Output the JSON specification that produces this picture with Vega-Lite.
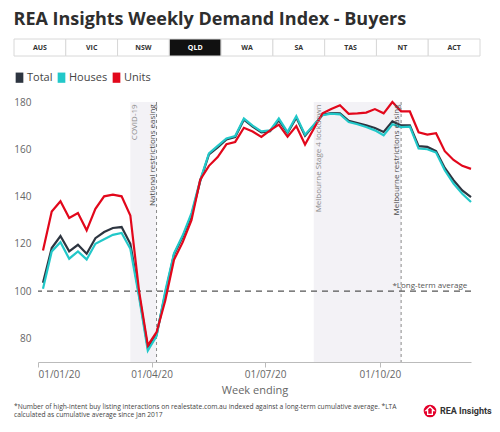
{
  "$schema": "https://vega.github.io/schema/vega-lite/v6.json",
  "background": "#ffffff",
  "padding": {"left": 13, "right": 6, "top": 10, "bottom": 2},
  "config": {"font": "Open Sans", "view": {"stroke": null}},
  "title": {"text": "REA Insights Weekly Demand Index - Buyers", "anchor": "start", "frame": "bounds", "fontSize": 18, "fontWeight": "bold", "color": "#2e2e2e", "font": "Open Sans", "offset": 10},
  "spacing": 15,
  "resolve": {"legend": {"color": "independent"}},
  "vconcat": [
    {
      "width": 433,
      "height": 17,
      "data": {"values": [{"state": "AUS"}, {"state": "VIC"}, {"state": "NSW"}, {"state": "QLD"}, {"state": "WA"}, {"state": "SA"}, {"state": "TAS"}, {"state": "NT"}, {"state": "ACT"}]},
      "encoding": {"x": {"field": "state", "type": "nominal", "sort": null, "axis": null, "scale": {"type": "band", "paddingInner": 0, "paddingOuter": 0, "range": [-24, 442]}}},
      "layer": [
        {"mark": {"type": "rect", "stroke": "#d8d8d8", "strokeWidth": 1}, "encoding": {"fill": {"condition": {"test": "datum.state === 'QLD'", "value": "#111111"}, "value": "#ffffff"}}},
        {"mark": {"type": "text", "fontSize": 7, "fontWeight": "bold", "font": "Open Sans"}, "encoding": {"text": {"field": "state"}, "fill": {"condition": {"test": "datum.state === 'QLD'", "value": "#ffffff"}, "value": "#333333"}}}
      ]
    },
    {
      "spacing": 8,
      "resolve": {"legend": {"color": "independent"}},
      "vconcat": [
        {
          "width": 433,
          "height": 260,
          "layer": [
            {
              "data": {"values": [{"date": "2020-03-15", "end": "2020-04-05"}, {"date": "2020-08-09", "end": "2020-10-18"}]},
              "mark": {"type": "rect", "fill": "#f3f2f6"},
              "encoding": {
                "x": {"field": "date", "type": "temporal", "title": "Week ending", "scale": {"type": "utc", "domain": [{"year": 2020, "month": 1, "date": 1, "utc": true}, {"year": 2020, "month": 12, "date": 13, "utc": true}], "nice": false}},
                "x2": {"field": "end"},
                "y": {"datum": 180, "type": "quantitative", "title": null, "scale": {"domain": [70, 180], "nice": false, "zero": false}},
                "y2": {"datum": 70}
              }
            },
            {
              "data": {"values": [{"date": "2020-04-05"}, {"date": "2020-10-18"}]},
              "mark": {"type": "rule", "color": "#8a8a8a", "strokeDash": [3, 3], "strokeWidth": 1},
              "encoding": {
                "x": {"field": "date", "type": "temporal", "title": "Week ending", "scale": {"type": "utc", "domain": [{"year": 2020, "month": 1, "date": 1, "utc": true}, {"year": 2020, "month": 12, "date": 13, "utc": true}], "nice": false}}
              }
            },
            {
              "data": {"values": [{"lta": 100}]},
              "mark": {"type": "rule", "color": "#555555", "strokeDash": [6, 5], "strokeWidth": 1.2},
              "encoding": {
                "y": {"field": "lta", "type": "quantitative", "title": null, "scale": {"domain": [70, 180], "nice": false, "zero": false}}
              }
            },
            {
              "data": {"values": [
                {"date": "2020-01-05", "series": "Total", "value": 103.5},
                {"date": "2020-01-12", "series": "Total", "value": 118.2},
                {"date": "2020-01-19", "series": "Total", "value": 123.3},
                {"date": "2020-01-26", "series": "Total", "value": 116.8},
                {"date": "2020-02-02", "series": "Total", "value": 119.6},
                {"date": "2020-02-09", "series": "Total", "value": 115.8},
                {"date": "2020-02-16", "series": "Total", "value": 122.4},
                {"date": "2020-02-23", "series": "Total", "value": 125.0},
                {"date": "2020-03-01", "series": "Total", "value": 126.7},
                {"date": "2020-03-08", "series": "Total", "value": 127.1},
                {"date": "2020-03-15", "series": "Total", "value": 120.0},
                {"date": "2020-03-22", "series": "Total", "value": 98.5},
                {"date": "2020-03-29", "series": "Total", "value": 76.0},
                {"date": "2020-04-05", "series": "Total", "value": 81.5},
                {"date": "2020-04-12", "series": "Total", "value": 99.0},
                {"date": "2020-04-19", "series": "Total", "value": 115.5},
                {"date": "2020-04-26", "series": "Total", "value": 123.0},
                {"date": "2020-05-03", "series": "Total", "value": 132.0},
                {"date": "2020-05-10", "series": "Total", "value": 146.5},
                {"date": "2020-05-17", "series": "Total", "value": 157.8},
                {"date": "2020-05-24", "series": "Total", "value": 160.8},
                {"date": "2020-05-31", "series": "Total", "value": 164.2},
                {"date": "2020-06-07", "series": "Total", "value": 165.2},
                {"date": "2020-06-14", "series": "Total", "value": 172.5},
                {"date": "2020-06-21", "series": "Total", "value": 169.6},
                {"date": "2020-06-28", "series": "Total", "value": 167.2},
                {"date": "2020-07-05", "series": "Total", "value": 167.6},
                {"date": "2020-07-12", "series": "Total", "value": 172.2},
                {"date": "2020-07-19", "series": "Total", "value": 166.9},
                {"date": "2020-07-26", "series": "Total", "value": 173.4},
                {"date": "2020-08-02", "series": "Total", "value": 165.7},
                {"date": "2020-08-09", "series": "Total", "value": 170.1},
                {"date": "2020-08-16", "series": "Total", "value": 174.6},
                {"date": "2020-08-23", "series": "Total", "value": 175.3},
                {"date": "2020-08-30", "series": "Total", "value": 175.2},
                {"date": "2020-09-06", "series": "Total", "value": 172.0},
                {"date": "2020-09-13", "series": "Total", "value": 171.1},
                {"date": "2020-09-20", "series": "Total", "value": 170.1},
                {"date": "2020-09-27", "series": "Total", "value": 169.0},
                {"date": "2020-10-04", "series": "Total", "value": 167.3},
                {"date": "2020-10-11", "series": "Total", "value": 171.8},
                {"date": "2020-10-18", "series": "Total", "value": 170.1},
                {"date": "2020-10-25", "series": "Total", "value": 170.1},
                {"date": "2020-11-01", "series": "Total", "value": 161.3},
                {"date": "2020-11-08", "series": "Total", "value": 161.0},
                {"date": "2020-11-15", "series": "Total", "value": 159.2},
                {"date": "2020-11-22", "series": "Total", "value": 152.1},
                {"date": "2020-11-29", "series": "Total", "value": 146.9},
                {"date": "2020-12-06", "series": "Total", "value": 142.6},
                {"date": "2020-12-13", "series": "Total", "value": 139.8},
                {"date": "2020-01-05", "series": "Houses", "value": 101.0},
                {"date": "2020-01-12", "series": "Houses", "value": 116.8},
                {"date": "2020-01-19", "series": "Houses", "value": 120.7},
                {"date": "2020-01-26", "series": "Houses", "value": 113.7},
                {"date": "2020-02-02", "series": "Houses", "value": 116.8},
                {"date": "2020-02-09", "series": "Houses", "value": 113.4},
                {"date": "2020-02-16", "series": "Houses", "value": 120.0},
                {"date": "2020-02-23", "series": "Houses", "value": 121.9},
                {"date": "2020-03-01", "series": "Houses", "value": 123.8},
                {"date": "2020-03-08", "series": "Houses", "value": 124.6},
                {"date": "2020-03-15", "series": "Houses", "value": 117.9},
                {"date": "2020-03-22", "series": "Houses", "value": 97.5},
                {"date": "2020-03-29", "series": "Houses", "value": 74.8},
                {"date": "2020-04-05", "series": "Houses", "value": 81.0},
                {"date": "2020-04-12", "series": "Houses", "value": 100.0},
                {"date": "2020-04-19", "series": "Houses", "value": 116.0},
                {"date": "2020-04-26", "series": "Houses", "value": 123.6},
                {"date": "2020-05-03", "series": "Houses", "value": 133.0},
                {"date": "2020-05-10", "series": "Houses", "value": 147.0},
                {"date": "2020-05-17", "series": "Houses", "value": 158.3},
                {"date": "2020-05-24", "series": "Houses", "value": 161.4},
                {"date": "2020-05-31", "series": "Houses", "value": 164.6},
                {"date": "2020-06-07", "series": "Houses", "value": 165.6},
                {"date": "2020-06-14", "series": "Houses", "value": 173.0},
                {"date": "2020-06-21", "series": "Houses", "value": 170.0},
                {"date": "2020-06-28", "series": "Houses", "value": 167.6},
                {"date": "2020-07-05", "series": "Houses", "value": 168.0},
                {"date": "2020-07-12", "series": "Houses", "value": 173.0},
                {"date": "2020-07-19", "series": "Houses", "value": 167.3},
                {"date": "2020-07-26", "series": "Houses", "value": 174.0},
                {"date": "2020-08-02", "series": "Houses", "value": 166.2},
                {"date": "2020-08-09", "series": "Houses", "value": 170.3},
                {"date": "2020-08-16", "series": "Houses", "value": 174.4},
                {"date": "2020-08-23", "series": "Houses", "value": 175.1},
                {"date": "2020-08-30", "series": "Houses", "value": 174.8},
                {"date": "2020-09-06", "series": "Houses", "value": 171.5},
                {"date": "2020-09-13", "series": "Houses", "value": 170.6},
                {"date": "2020-09-20", "series": "Houses", "value": 169.4},
                {"date": "2020-09-27", "series": "Houses", "value": 168.0},
                {"date": "2020-10-04", "series": "Houses", "value": 165.9},
                {"date": "2020-10-11", "series": "Houses", "value": 170.6},
                {"date": "2020-10-18", "series": "Houses", "value": 169.4},
                {"date": "2020-10-25", "series": "Houses", "value": 169.6},
                {"date": "2020-11-01", "series": "Houses", "value": 160.3},
                {"date": "2020-11-08", "series": "Houses", "value": 160.0},
                {"date": "2020-11-15", "series": "Houses", "value": 158.6},
                {"date": "2020-11-22", "series": "Houses", "value": 151.1},
                {"date": "2020-11-29", "series": "Houses", "value": 145.5},
                {"date": "2020-12-06", "series": "Houses", "value": 141.2},
                {"date": "2020-12-13", "series": "Houses", "value": 137.7},
                {"date": "2020-01-05", "series": "Units", "value": 117.2},
                {"date": "2020-01-12", "series": "Units", "value": 133.7},
                {"date": "2020-01-19", "series": "Units", "value": 138.0},
                {"date": "2020-01-26", "series": "Units", "value": 130.9},
                {"date": "2020-02-02", "series": "Units", "value": 133.0},
                {"date": "2020-02-09", "series": "Units", "value": 125.7},
                {"date": "2020-02-16", "series": "Units", "value": 134.8},
                {"date": "2020-02-23", "series": "Units", "value": 140.1},
                {"date": "2020-03-01", "series": "Units", "value": 140.8},
                {"date": "2020-03-08", "series": "Units", "value": 140.1},
                {"date": "2020-03-15", "series": "Units", "value": 132.0},
                {"date": "2020-03-22", "series": "Units", "value": 100.0},
                {"date": "2020-03-29", "series": "Units", "value": 77.0},
                {"date": "2020-04-05", "series": "Units", "value": 82.6},
                {"date": "2020-04-12", "series": "Units", "value": 96.0},
                {"date": "2020-04-19", "series": "Units", "value": 113.3},
                {"date": "2020-04-26", "series": "Units", "value": 120.7},
                {"date": "2020-05-03", "series": "Units", "value": 130.0},
                {"date": "2020-05-10", "series": "Units", "value": 147.1},
                {"date": "2020-05-17", "series": "Units", "value": 153.0},
                {"date": "2020-05-24", "series": "Units", "value": 156.7},
                {"date": "2020-05-31", "series": "Units", "value": 162.1},
                {"date": "2020-06-07", "series": "Units", "value": 163.1},
                {"date": "2020-06-14", "series": "Units", "value": 169.1},
                {"date": "2020-06-21", "series": "Units", "value": 167.5},
                {"date": "2020-06-28", "series": "Units", "value": 165.2},
                {"date": "2020-07-05", "series": "Units", "value": 168.0},
                {"date": "2020-07-12", "series": "Units", "value": 170.4},
                {"date": "2020-07-19", "series": "Units", "value": 165.3},
                {"date": "2020-07-26", "series": "Units", "value": 169.8},
                {"date": "2020-08-02", "series": "Units", "value": 162.0},
                {"date": "2020-08-09", "series": "Units", "value": 168.7},
                {"date": "2020-08-16", "series": "Units", "value": 175.2},
                {"date": "2020-08-23", "series": "Units", "value": 177.0},
                {"date": "2020-08-30", "series": "Units", "value": 178.6},
                {"date": "2020-09-06", "series": "Units", "value": 175.0},
                {"date": "2020-09-13", "series": "Units", "value": 175.2},
                {"date": "2020-09-20", "series": "Units", "value": 175.5},
                {"date": "2020-09-27", "series": "Units", "value": 177.0},
                {"date": "2020-10-04", "series": "Units", "value": 175.2},
                {"date": "2020-10-11", "series": "Units", "value": 180.0},
                {"date": "2020-10-18", "series": "Units", "value": 176.0},
                {"date": "2020-10-25", "series": "Units", "value": 176.0},
                {"date": "2020-11-01", "series": "Units", "value": 167.2},
                {"date": "2020-11-08", "series": "Units", "value": 166.2},
                {"date": "2020-11-15", "series": "Units", "value": 166.8},
                {"date": "2020-11-22", "series": "Units", "value": 159.2},
                {"date": "2020-11-29", "series": "Units", "value": 155.5},
                {"date": "2020-12-06", "series": "Units", "value": 153.0},
                {"date": "2020-12-13", "series": "Units", "value": 151.7}
              ]},
              "mark": {"type": "line", "strokeWidth": 2.2},
              "encoding": {
                "x": {"field": "date", "type": "temporal", "title": "Week ending", "scale": {"type": "utc", "domain": [{"year": 2020, "month": 1, "date": 1, "utc": true}, {"year": 2020, "month": 12, "date": 13, "utc": true}], "nice": false},
                  "axis": {"title": "Week ending", "values": [{"year": 2020, "month": 1, "date": 1, "utc": true}, {"year": 2020, "month": 4, "date": 1, "utc": true}, {"year": 2020, "month": 7, "date": 1, "utc": true}, {"year": 2020, "month": 10, "date": 1, "utc": true}], "format": "%d/%m/%y", "grid": false, "domainColor": "#bbbbbb", "tickColor": "#bbbbbb", "tickSize": 5, "labelFontSize": 10, "labelColor": "#666666", "labelPadding": 2, "titleFontSize": 11, "titleFontWeight": "normal", "titleColor": "#666666", "titlePadding": 5, "labelFont": "Open Sans", "titleFont": "Open Sans"}},
                "y": {"field": "value", "type": "quantitative", "title": null, "scale": {"domain": [70, 180], "nice": false, "zero": false},
                  "axis": {"title": null, "values": [80, 100, 120, 140, 160, 180], "domain": false, "ticks": false, "grid": false, "labelFontSize": 10, "labelColor": "#666666", "labelPadding": 7, "labelFont": "Open Sans"}},
                "color": {"field": "series", "type": "nominal", "sort": null,
                  "scale": {"domain": ["Total", "Houses", "Units"], "range": ["#2d3540", "#22c8c9", "#e2071b"]},
                  "legend": {"title": null, "orient": "none", "legendX": -24, "legendY": -30, "direction": "horizontal", "symbolType": "M-0.75,-1H0.75V1H-0.75Z", "symbolSize": 105, "symbolStrokeWidth": 0, "labelFontSize": 11, "labelColor": "#444444", "labelFont": "Open Sans", "columnPadding": 3, "labelOffset": 2,
                    "encode": {"symbols": {"update": {"fill": {"scale": "color", "field": "value"}, "opacity": {"value": 1}}}}}}
              }
            },
            {
              "data": {"values": [{"date": "2020-03-15", "label": "COVID-19"}, {"date": "2020-08-09", "label": "Melbourne Stage 4 lockdown"}]},
              "mark": {"type": "text", "angle": 270, "align": "right", "baseline": "top", "fontSize": 8, "color": "#8c8c8c", "font": "Open Sans", "dy": 1},
              "encoding": {
                "x": {"field": "date", "type": "temporal", "title": "Week ending", "scale": {"type": "utc", "domain": [{"year": 2020, "month": 1, "date": 1, "utc": true}, {"year": 2020, "month": 12, "date": 13, "utc": true}], "nice": false}},
                "y": {"datum": 179, "type": "quantitative", "title": null, "scale": {"domain": [70, 180], "nice": false, "zero": false}},
                "text": {"field": "label"}
              }
            },
            {
              "data": {"values": [{"date": "2020-04-05", "label": "National restrictions easing"}, {"date": "2020-10-18", "label": "Melbourne restrictions easing"}]},
              "mark": {"type": "text", "angle": 270, "align": "right", "baseline": "bottom", "fontSize": 8, "color": "#4a4a4a", "font": "Open Sans"},
              "encoding": {
                "x": {"field": "date", "type": "temporal", "title": "Week ending", "scale": {"type": "utc", "domain": [{"year": 2020, "month": 1, "date": 1, "utc": true}, {"year": 2020, "month": 12, "date": 13, "utc": true}], "nice": false}},
                "y": {"datum": 179, "type": "quantitative", "title": null, "scale": {"domain": [70, 180], "nice": false, "zero": false}},
                "text": {"field": "label"}
              }
            },
            {
              "data": {"values": [{"date": "2020-12-10", "lta": 100, "label": "*Long-term average"}]},
              "mark": {"type": "text", "align": "right", "baseline": "bottom", "fontSize": 8, "color": "#555555", "font": "Open Sans", "dy": -1},
              "encoding": {
                "x": {"field": "date", "type": "temporal", "title": "Week ending", "scale": {"type": "utc", "domain": [{"year": 2020, "month": 1, "date": 1, "utc": true}, {"year": 2020, "month": 12, "date": 13, "utc": true}], "nice": false}},
                "y": {"field": "lta", "type": "quantitative", "title": null, "scale": {"domain": [70, 180], "nice": false, "zero": false}},
                "text": {"field": "label"}
              }
            }
          ]
        },
        {
          "width": 433,
          "height": 16,
          "resolve": {"scale": {"x": "independent"}},
          "layer": [
            {
              "data": {"values": [
                {"part": "note", "line": 1, "text": "*Number of high-intent buy listing interactions on realestate.com.au indexed against a long-term cumulative average. *LTA"},
                {"part": "note", "line": 2, "text": "calculated as cumulative average since Jan 2017"}
              ]},
              "mark": {"type": "text", "align": "left", "baseline": "middle", "fontSize": 6.7, "color": "#444444", "font": "Open Sans"},
              "encoding": {
                "x": {"field": "part", "type": "nominal", "bandPosition": 0, "axis": null, "scale": {"type": "band", "paddingInner": 0, "paddingOuter": 0, "range": [-24, 376]}},
                "y": {"field": "line", "type": "ordinal", "axis": null, "scale": {"type": "band", "paddingInner": 0, "paddingOuter": 0}},
                "text": {"field": "text"}
              }
            },
            {
              "data": {"values": [{"part": "icon"}]},
              "mark": {"type": "point", "shape": "circle", "filled": true, "size": 160, "color": "#e4002b", "opacity": 1},
              "encoding": {"x": {"field": "part", "type": "nominal", "axis": null, "scale": {"type": "band", "domain": ["icon", "name"], "paddingInner": 0, "paddingOuter": 0, "range": [384, 416]}}}
            },
            {
              "data": {"values": [{"part": "icon"}]},
              "mark": {"type": "point", "shape": "M0,-0.8L0.75,-0.1L0.45,-0.1L0.45,0.65L-0.45,0.65L-0.45,-0.1L-0.75,-0.1Z", "filled": false, "size": 110, "color": "#ffffff", "strokeWidth": 1.3, "opacity": 1},
              "encoding": {"x": {"field": "part", "type": "nominal", "axis": null, "scale": {"type": "band", "domain": ["icon", "name"], "paddingInner": 0, "paddingOuter": 0, "range": [384, 416]}}}
            },
            {
              "data": {"values": [{"part": "name", "label": "REA Insights"}]},
              "mark": {"type": "text", "align": "left", "baseline": "middle", "fontSize": 9, "fontWeight": "bold", "color": "#333333", "font": "Roboto", "dx": 2},
              "encoding": {
                "x": {"field": "part", "type": "nominal", "bandPosition": 0, "axis": null, "scale": {"type": "band", "domain": ["icon", "name"], "paddingInner": 0, "paddingOuter": 0, "range": [384, 416]}},
                "text": {"field": "label"}
              }
            }
          ]
        }
      ]
    }
  ]
}
